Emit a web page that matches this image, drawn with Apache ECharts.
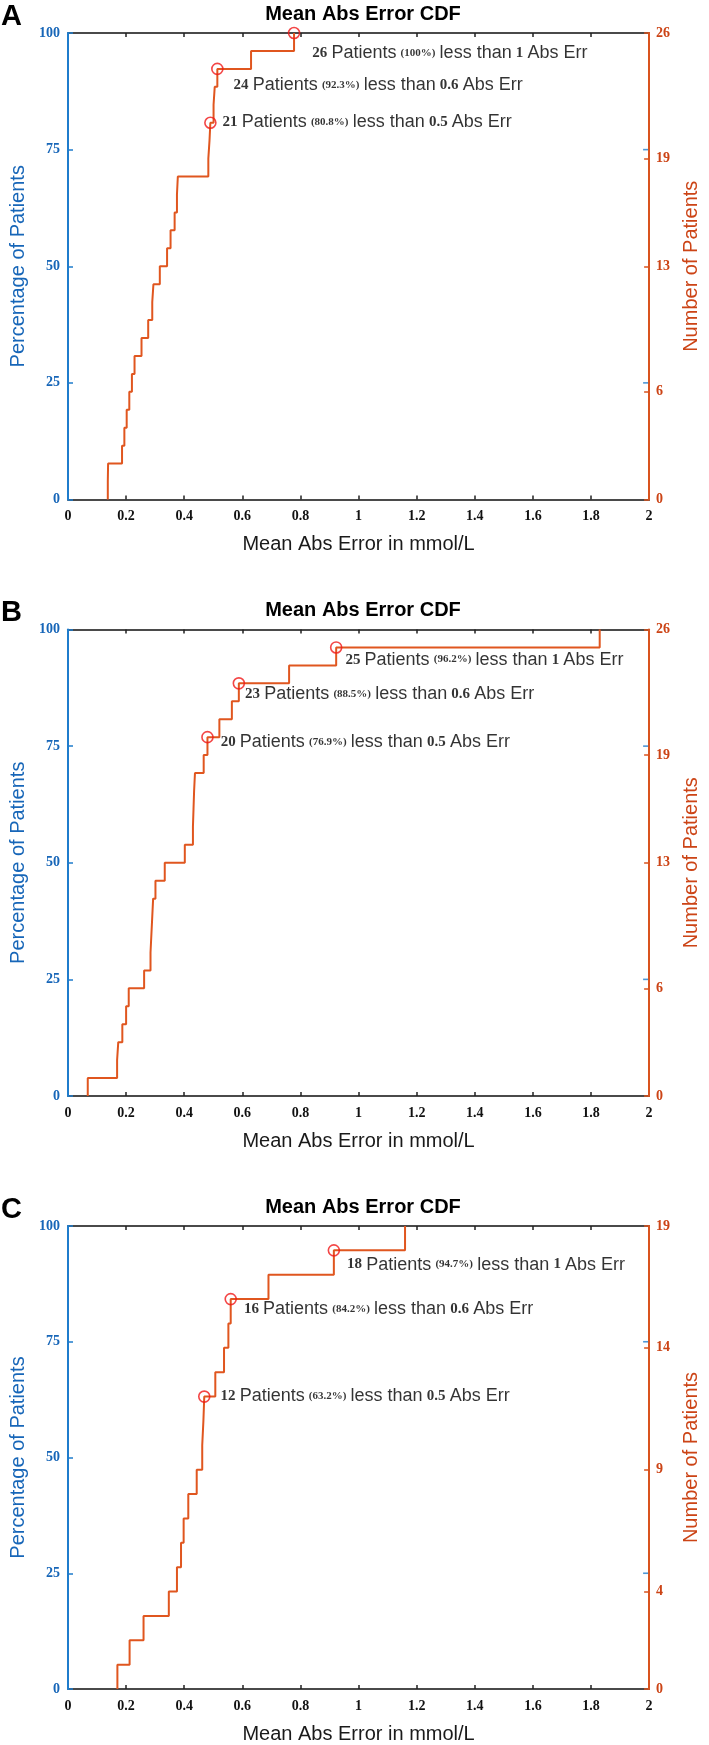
<!DOCTYPE html>
<html><head><meta charset="utf-8">
<script src="https://cdn.jsdelivr.net/npm/echarts@6/dist/echarts.min.js"></script>
<style>html,body{margin:0;padding:0;background:#fff}#c{width:709px;height:1745px}</style>
</head><body><div id="c"></div>
<script>
// ---------------- data ----------------
const panelLetters = ['A', 'B', 'C'];
const chartTitle = 'Mean Abs Error CDF';
const xAxisTitle = 'Mean Abs Error in mmol/L';
const leftAxisTitle = 'Percentage of Patients';
const rightAxisTitle = 'Number of Patients';
const xMin = 0, xMax = 2, xStep = 0.2;
const percentTicks = [0, 25, 50, 75, 100];
// sorted mean absolute errors (mmol/L), one per patient
const errorsA = [0.137, 0.138, 0.186, 0.194, 0.202, 0.211, 0.220, 0.229, 0.253, 0.276, 0.290, 0.294, 0.316,
  0.341, 0.353, 0.367, 0.375, 0.378, 0.483, 0.487, 0.490, 0.501, 0.505, 0.514, 0.630, 0.778];
const errorsB = [0.068, 0.169, 0.173, 0.187, 0.200, 0.209, 0.262, 0.284, 0.287, 0.290, 0.293, 0.301, 0.333,
  0.402, 0.430, 0.432, 0.434, 0.437, 0.467, 0.480, 0.521, 0.564, 0.588, 0.761, 0.923, 1.830];
const errorsC = [0.170, 0.212, 0.260, 0.347, 0.375, 0.389, 0.398, 0.414, 0.443, 0.462, 0.466, 0.469,
  0.507, 0.537, 0.552, 0.560, 0.690, 0.915, 1.160];
const countTicksA = [0, 6, 13, 19, 26];
const countTicksB = [0, 6, 13, 19, 26];
const countTicksC = [0, 4, 9, 14, 19];
const thresholds = [0.5, 0.6, 1];
const mirroredPercentTicks = [25, 75];

// ---------------- layout / style ----------------
const panelTops = [33, 629.5, 1226];
const plotH = 466.5, plotLeft = 68, plotW = 590;
// annotation offsets from marker centre [dx, dy], one per threshold
const annOffsets = [
  [[13, 0], [17, 17], [19, 21]],
  [[14, 6], [7, 12], [10, 13]],
  [[17, 0], [14, 11], [14, 15]]
];
const BLUE = '#1f7ccc', BLUE_TXT = '#1766b8', ORANGE = '#d9531e', ORANGE_TXT = '#cc4416', LINE = '#e0561f', RED = '#f01818', GRAY = '#4a4a4a';
const SANS = '"Liberation Sans", Arial, sans-serif';
const SERIF = '"Liberation Serif", "Times New Roman", serif';

const errorSets = [errorsA, errorsB, errorsC];
const countTickSets = [countTicksA, countTicksB, countTicksC];

const option = {
  backgroundColor: '#fff',
  animation: false,
  title: [], grid: [], xAxis: [], yAxis: [], series: [],
  graphic: []
};

function fmtPct(c, n) {
  const p = c / n * 100;
  return Math.abs(p - Math.round(p)) < 1e-9 ? String(Math.round(p)) : p.toFixed(1);
}

panelLetters.forEach((letter, i) => {
  const errs = errorSets[i];
  const N = errs.length;
  const top = panelTops[i];
  option.grid.push({ left: plotLeft, top: top, width: plotW, height: plotH, containLabel: false });
  option.title.push({
    text: chartTitle, left: plotLeft + plotW / 2, top: top - 29, textAlign: 'center', padding: 0,
    textStyle: { fontFamily: SANS, fontWeight: 'bold', fontSize: 20, color: '#000' }
  });
  option.graphic.push({
    type: 'text', left: 1, top: top - 31,
    style: { text: letter, fontFamily: SANS, fontWeight: 'bold', fontSize: 29, fill: '#000' }
  });
  // bottom x axis
  option.xAxis.push({
    type: 'value', gridIndex: i, min: xMin, max: xMax, interval: xStep, position: 'bottom',
    name: xAxisTitle, nameLocation: 'middle', nameGap: 35,
    nameTextStyle: { fontFamily: SANS, fontSize: 20, color: '#1a1a1a' },
    axisLine: { onZero: false, lineStyle: { color: GRAY, width: 2 } },
    axisTick: { inside: true, length: 4, lineStyle: { color: '#222', width: 1.5 } },
    axisLabel: { margin: 10, fontFamily: SERIF, fontSize: 14, fontWeight: 'bold', color: '#111',
      formatter: v => String(+v.toFixed(1)) },
    splitLine: { show: false }, z: 2
  });
  // top x axis (box)
  option.xAxis.push({
    type: 'value', gridIndex: i, min: xMin, max: xMax, interval: xStep, position: 'top',
    axisLine: { onZero: false, lineStyle: { color: GRAY, width: 2 } },
    axisTick: { inside: true, length: 4, lineStyle: { color: '#222', width: 1.5 } },
    axisLabel: { show: false }, splitLine: { show: false }, z: 2
  });
  // left percentage axis
  option.yAxis.push({
    type: 'value', gridIndex: i, min: 0, max: 100, interval: 25, position: 'left',
    name: leftAxisTitle, nameLocation: 'middle', nameGap: 38, nameRotate: 90,
    nameTextStyle: { fontFamily: SANS, fontSize: 20, color: BLUE_TXT },
    axisLine: { show: true, onZero: false, lineStyle: { color: BLUE, width: 2 } },
    axisTick: { inside: true, length: 5, lineStyle: { color: BLUE, width: 1.5 } },
    axisLabel: { margin: 8, fontFamily: SERIF, fontSize: 14, fontWeight: 'bold', color: BLUE_TXT },
    splitLine: { show: false }, z: 3
  });
  // right count axis
  const ct = countTickSets[i];
  option.yAxis.push({
    type: 'value', gridIndex: i, min: 0, max: N, position: 'right',
    name: rightAxisTitle, nameLocation: 'middle', nameGap: 27, nameRotate: 90,
    nameTextStyle: { fontFamily: SANS, fontSize: 20, color: ORANGE_TXT },
    axisLine: { show: true, onZero: false, lineStyle: { color: ORANGE, width: 2 } },
    axisTick: { inside: true, length: 5, customValues: ct, lineStyle: { color: ORANGE, width: 1.5 } },
    axisLabel: { margin: 7, customValues: ct, fontFamily: SERIF, fontSize: 14, fontWeight: 'bold', color: ORANGE_TXT },
    splitLine: { show: false }, z: 3
  });
  const xIdx = i * 2, yPct = i * 2, yCount = i * 2 + 1;
  // mirrored blue percentage ticks on right edge
  option.series.push({
    type: 'scatter', xAxisIndex: xIdx, yAxisIndex: yPct,
    data: mirroredPercentTicks.map(p => [xMax, p]),
    symbol: 'rect', symbolSize: [5, 1.6], symbolOffset: [-3.5, 0],
    itemStyle: { color: BLUE }, z: 4, silent: true
  });
  // CDF step line
  const stepData = [[errs[0], 0]].concat(errs.map((e, k) => [e, k + 1]));
  option.series.push({
    type: 'line', xAxisIndex: xIdx, yAxisIndex: yCount, data: stepData, step: 'end',
    showSymbol: false, symbol: 'none', lineStyle: { color: LINE, width: 2 }, z: 3, silent: true
  });
  // threshold markers with annotations
  const mk = thresholds.map((thr, t) => {
    const c = errs.filter(e => e < thr).length;
    const off = annOffsets[i][t];
    return {
      value: [errs[c - 1], c],
      label: {
        show: true, position: [5.5 + off[0], 5.5 + off[1]], align: 'left', verticalAlign: 'middle',
        formatter: `{n|${c}} {p|Patients} {q|(${fmtPct(c, N)}%)} {t|less than} {n|${thr}} {t|Abs Err}`
      }
    };
  });
  option.series.push({
    type: 'scatter', xAxisIndex: xIdx, yAxisIndex: yCount, data: mk,
    symbol: 'circle', symbolSize: 11,
    itemStyle: { color: 'rgba(0,0,0,0)', borderColor: RED, borderWidth: 1.6 },
    label: {
      fontFamily: SANS, fontSize: 15, color: '#000',
      rich: {
        n: { fontFamily: SERIF, fontSize: 15, fontWeight: 'bold', color: '#000' },
        p: { fontFamily: SANS, fontSize: 18, color: '#000' },
        q: { fontFamily: SERIF, fontSize: 11, fontWeight: 'bold', color: '#000' },
        t: { fontFamily: SANS, fontSize: 18, color: '#000' }
      }
    },
    z: 5, silent: true
  });
});

const chart = echarts.init(document.getElementById('c'), null, { renderer: 'canvas', width: 709, height: 1745 });
chart.setOption(option);
</script>
</body></html>
